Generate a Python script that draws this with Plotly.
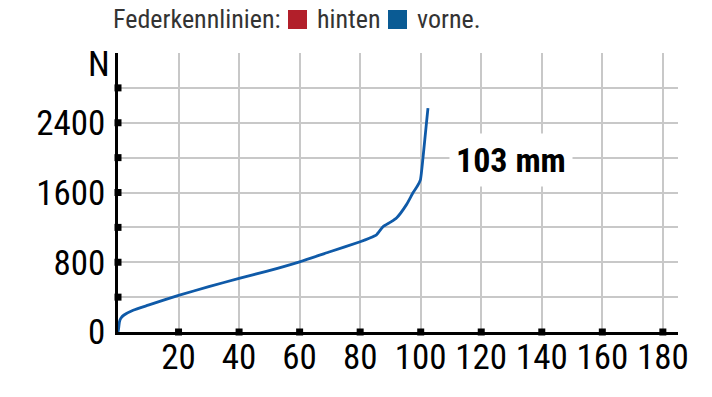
import plotly.graph_objects as go

# ---- data ----
weg_mm = [0, 0.2, 0.5, 1, 2, 5, 10, 20, 30, 40, 49, 60, 70, 80, 83, 85.4, 87.6, 90, 92, 95.3, 97.5, 99, 99.9, 100.8, 101.9, 102.4]
kraft_N = [0, 40, 120, 160, 195, 250, 308, 420, 520, 615, 695, 805, 920, 1035, 1075, 1115, 1210, 1260, 1308, 1461, 1600, 1680, 1745, 2013, 2396, 2568]

x_ticks = [20, 40, 60, 80, 100, 120, 140, 160, 180]
x_ticklabels = ["20", "40", "60", "80", "100", "120", "140", "160", "180"]
y_ticks = [0, 400, 800, 1200, 1600, 2000, 2400, 2800]
y_ticklabels = ["0", "", "800", "", "1600", "", "2400", ""]

legend_title = "Federkennlinien:"
legend_names = ["hinten", "vorne."]
legend_colors = ["#B21F2A", "#0A5B94"]

FONT = "Roboto Condensed"
BLUE = "#0F5AA8"

W, H = 712, 397
ML, MR, MT, MB = 118, 34, 53, 65
PW, PH = W - ML - MR, H - MT - MB


def px2x(px):
    return (px - ML) / PW


def py2y(py):
    return 1 + (MT - py) / PH


fig = go.Figure()

# curve
fig.add_trace(go.Scatter(x=weg_mm, y=kraft_N, mode="lines", showlegend=False,
                         line=dict(color=BLUE, width=2.8, shape="spline", smoothing=0.5)))

# square tick markers on axes
fig.add_trace(go.Scatter(x=x_ticks, y=[0] * len(x_ticks), mode="markers", showlegend=False,
                         cliponaxis=False, hoverinfo="skip",
                         marker=dict(symbol="square", size=7, color="black")))
fig.add_trace(go.Scatter(x=[0] * (len(y_ticks) - 1), y=y_ticks[1:], mode="markers", showlegend=False,
                         cliponaxis=False, hoverinfo="skip",
                         marker=dict(symbol="square", size=7, color="black")))

# legend (manual)
fig.add_annotation(x=px2x(111), y=py2y(19), xref="paper", yref="paper", text=legend_title,
                   showarrow=False, xanchor="left", yanchor="middle",
                   font=dict(family=FONT, size=26, color="#333333"))
sq_left = [288, 388]
for name, col, left in zip(legend_names, legend_colors, sq_left):
    fig.add_shape(type="rect", xref="paper", yref="paper",
                  x0=px2x(left), x1=px2x(left + 19), y0=py2y(29), y1=py2y(10),
                  fillcolor=col, line=dict(width=0))
    fig.add_annotation(x=px2x(left + 27), y=py2y(19), xref="paper", yref="paper", text=name,
                       showarrow=False, xanchor="left", yanchor="middle",
                       font=dict(family=FONT, size=26, color="#333333"))

fig.add_annotation(x=103, y=1970, xref="x", yref="y", text="<b>103 mm</b>", showarrow=False,
                   xanchor="left", yanchor="middle", xshift=19,
                   font=dict(family=FONT, size=34, color="black"),
                   bgcolor="white", borderpad=6)
fig.add_annotation(x=0, y=1, xref="paper", yref="paper", text="N", showarrow=False,
                   xanchor="right", yanchor="bottom", xshift=-6, yshift=-34,
                   font=dict(family=FONT, size=35, color="black"))

fig.update_layout(
    width=W, height=H,
    margin=dict(l=ML, r=MR, t=MT, b=MB, autoexpand=False),
    paper_bgcolor="white", plot_bgcolor="white",
    font=dict(family=FONT, color="black"),
    showlegend=False,
    xaxis=dict(range=[0, 185], tickvals=x_ticks, ticktext=x_ticklabels, tickangle=0,
               automargin=False,
               showgrid=True, gridcolor="#C8C8C8", gridwidth=1.5,
               showline=True, linecolor="black", linewidth=2.5,
               zeroline=False, ticks="", ticklabelstandoff=-8,
               tickfont=dict(family=FONT, size=35, color="black")),
    yaxis=dict(range=[0, 3200], tickvals=y_ticks, ticktext=y_ticklabels,
               automargin=False,
               showgrid=True, gridcolor="#C8C8C8", gridwidth=1.5,
               showline=True, linecolor="black", linewidth=2.5,
               zeroline=False, ticks="outside", ticklen=3, tickcolor="rgba(0,0,0,0)",
               tickfont=dict(family=FONT, size=35, color="black")),
)

fig.write_html("out.html", config={"displayModeBar": False},
               post_script="document.body.style.margin='0';")
